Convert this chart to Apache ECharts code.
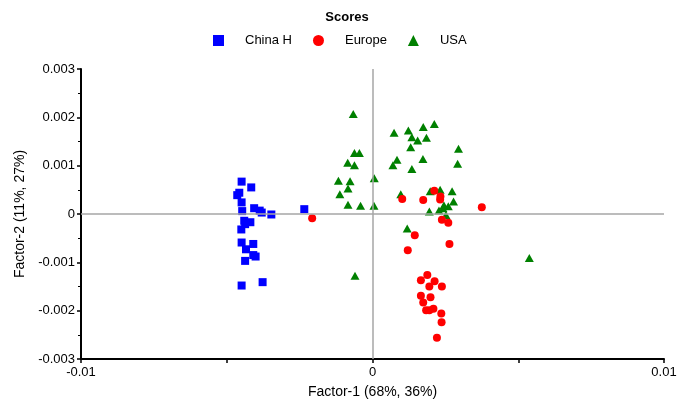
<!DOCTYPE html>
<html>
<head>
<meta charset="utf-8">
<script src="https://cdn.jsdelivr.net/npm/echarts@6/dist/echarts.min.js"></script>
<style>
  html, body { margin: 0; padding: 0; background: #fff; }
  #chart { width: 694px; height: 401px; }
</style>
</head>
<body>
<div id="chart"></div>
<script>
// score points [factor-1, factor-2]
const chinaH = [
  [-0.00449, 0.00067], [-0.00416, 0.00055], [-0.00457, 0.00044], [-0.00464, 0.00039],
  [-0.00449, 0.00024], [-0.00406, 0.00012], [-0.00387, 0.00007], [-0.00380, 0.00003],
  [-0.00447, 0.00006], [-0.00347, -0.00001], [-0.00234, 0.00010], [-0.00440, -0.00014],
  [-0.00419, -0.00017], [-0.00437, -0.00021], [-0.00450, -0.00032], [-0.00449, -0.00059],
  [-0.00409, -0.00062], [-0.00434, -0.00073], [-0.00409, -0.00085], [-0.00401, -0.00088],
  [-0.00437, -0.00097], [-0.00377, -0.00141], [-0.00449, -0.00148]
];
const europe = [
  [-0.00207, -0.00009], [0.00102, 0.00031], [0.00174, 0.00029], [0.00212, 0.00048],
  [0.00233, 0.00036], [0.00232, 0.00030], [0.00375, 0.00014], [0.00238, -0.00012],
  [0.00260, -0.00018], [0.00145, -0.00044], [0.00121, -0.00075], [0.00264, -0.00062],
  [0.00188, -0.00126], [0.00166, -0.00137], [0.00213, -0.00139], [0.00195, -0.00150],
  [0.00238, -0.00150], [0.00166, -0.00169], [0.00199, -0.00172], [0.00174, -0.00183],
  [0.00184, -0.00199], [0.00195, -0.00199], [0.00209, -0.00196], [0.00236, -0.00206],
  [0.00237, -0.00224], [0.00221, -0.00256]
];
const usa = [
  [-0.00066, 0.00207], [0.00074, 0.00168], [0.00123, 0.00173], [0.00174, 0.00180],
  [0.00212, 0.00186], [0.00135, 0.00159], [0.00155, 0.00152], [0.00185, 0.00158],
  [0.00131, 0.00138], [0.00295, 0.00135], [-0.00062, 0.00126], [-0.00045, 0.00126],
  [0.00084, 0.00112], [0.00070, 0.00101], [0.00173, 0.00114], [0.00292, 0.00104],
  [-0.00085, 0.00106], [-0.00062, 0.00101], [0.00135, 0.00093], [-0.00117, 0.00069],
  [-0.00077, 0.00068], [0.00006, 0.00074], [-0.00084, 0.00053], [-0.00112, 0.00041],
  [-0.00084, 0.00019], [-0.00041, 0.00017], [0.00005, 0.00017], [0.00097, 0.00041],
  [0.00198, 0.00047], [0.00232, 0.00050], [0.00273, 0.00047], [0.00278, 0.00026],
  [0.00245, 0.00018], [0.00260, 0.00016], [0.00228, 0.00007], [0.00195, 0.00005],
  [0.00242, 0.00012], [0.00252, -0.00002], [0.00119, -0.00030], [-0.00060, -0.00128],
  [0.00538, -0.00091]
];
const groups = ["China H", "Europe", "USA"];

const font = "Liberation Sans, Arial, sans-serif";
let chart = echarts.init(document.getElementById("chart"));

chart.setOption({
  animation: false,
  title: {
    text: "Scores",
    left: "center",
    top: 6,
    textStyle: { fontFamily: font, fontSize: 13, fontWeight: "bold", color: "#000" },
  },
  legend: {
    data: groups,
    left: 208,
    top: 29,
    itemWidth: 11,
    itemHeight: 11,
    itemGap: 21,
    textStyle: { fontFamily: font, fontSize: 13, color: "#000", padding: [0, 0, 0, 16] },
  },
  grid: { left: 81, right: 30, top: 69, bottom: 42, outerBoundsMode: "none", containLabel: false },
  xAxis: {
    type: "value",
    min: -0.01,
    max: 0.01,
    interval: 0.01,
    name: "Factor-1 (68%, 36%)",
    nameLocation: "middle",
    nameGap: 26,
    nameTextStyle: { fontFamily: font, fontSize: 14, color: "#000" },
    axisLine: { onZero: false, lineStyle: { color: "#000", width: 2 } },
    axisTick: { length: 4, lineStyle: { color: "#000", width: 1.5 } },
    minorTick: { show: true, splitNumber: 2, length: 4, lineStyle: { color: "#000", width: 1.5 } },
    axisLabel: { fontFamily: font, fontSize: 13, color: "#000", margin: 7 },
    splitLine: { show: false },
  },
  yAxis: {
    type: "value",
    min: -0.003,
    max: 0.003,
    interval: 0.001,
    name: "Factor-2 (11%, 27%)",
    nameLocation: "middle",
    nameGap: 52,
    nameTextStyle: { fontFamily: font, fontSize: 14, color: "#000" },
    axisLine: { onZero: false, lineStyle: { color: "#000", width: 2 } },
    axisTick: { length: 4, lineStyle: { color: "#000", width: 1.5 } },
    minorTick: { show: true, splitNumber: 2, length: 3, lineStyle: { color: "#000", width: 1 } },
    axisLabel: { fontFamily: font, fontSize: 13, color: "#000", margin: 6 },
    splitLine: { show: false },
  },
  series: [
    {
      name: "China H",
      type: "scatter",
      symbol: "rect",
      symbolSize: 8,
      itemStyle: { color: "#0000ff", opacity: 1 },
      data: chinaH,
      z: 3,
      markLine: {
        silent: true,
        symbol: "none",
        label: { show: false },
        lineStyle: { color: "#a6a6a6", width: 1.5, type: "solid" },
        data: [{ xAxis: 0 }, { yAxis: 0 }],
      },
    },
    {
      name: "Europe",
      type: "scatter",
      symbol: "circle",
      symbolSize: 8,
      itemStyle: { color: "#ff0000", opacity: 1 },
      data: europe,
      z: 4,
    },
    {
      name: "USA",
      type: "scatter",
      symbol: "triangle",
      symbolSize: [9, 8],
      itemStyle: { color: "#008000", opacity: 1 },
      data: usa,
      z: 3,
    },
  ],
});
</script>
</body>
</html>
